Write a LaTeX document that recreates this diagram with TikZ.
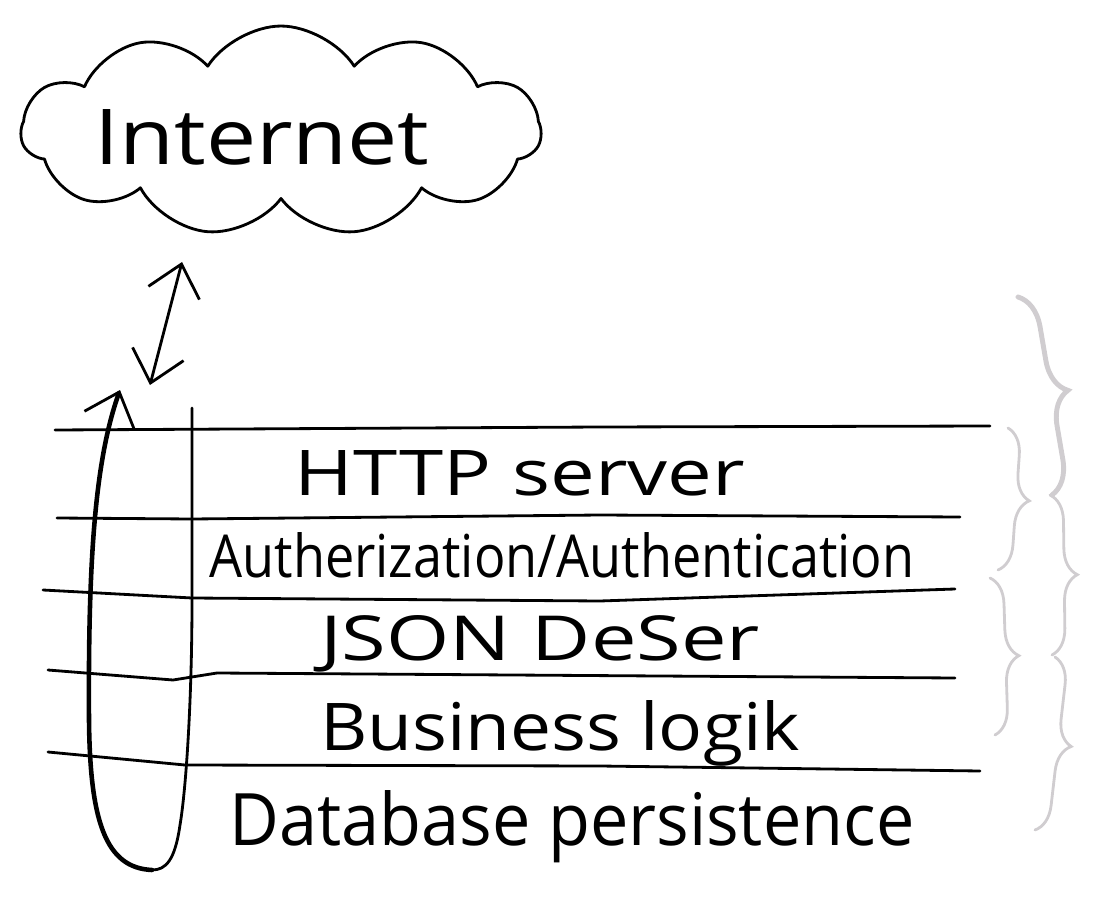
\documentclass[tikz,border=0pt]{standalone}
\usepackage{fontspec}
\setmainfont{Open Sans}
\usepackage{tikz}
\usetikzlibrary{shapes, arrows.meta, positioning, decorations.pathreplacing}
\definecolor{pencil}{RGB}{208,205,208}
\newcommand{\scribble}[3]{\resizebox{#1}{#2}{#3}}
\tikzstyle{pen} = [line width=1.6pt, line cap=round, line join=round]
\tikzstyle{heavypen} = [line width=2.6pt, line cap=round, line join=round]
\tikzstyle{hand} = [inner sep=0pt, anchor=base]
\tikzstyle{bracket} = [draw=pencil, line width=1.6pt, line cap=round, decorate]
\tikzstyle{barb} = [>={Straight Barb[length=17pt, width=30pt, line width=1.6pt]}]

\begin{document}
\begin{tikzpicture}[x=0.02cm, y=-0.02cm, barb]
	\useasboundingbox (0,0) rectangle (1116,902);
	% the cloud
	\node [cloud, draw, pen, cloud puffs=11, cloud puff arc=115, aspect=2.4,
		minimum width=10.4cm, minimum height=4.2cm, inner sep=0pt] (internet) at (281,131) {};
	\node [hand] (internettext) at (262,165) {\scribble{6.7cm}{1.1cm}{Internet}};
	% link to the stack
	\coordinate (netend) at (182,262);
	\coordinate (stackend) at (150,385);
	\draw [pen, <->] (netend) -- (stackend);
	% layer lines
	\draw [pen] (55,430) -- (600,427) -- (990,426);
	\draw [pen] (57,518) -- (192,519) -- (600,515) -- (960,517);
	\draw [pen] (43,590) -- (192,598) -- (600,601) -- (955,589);
	\draw [pen] (48,670) -- (173,680) -- (217,673) -- (955,678);
	\draw [pen] (48,752) -- (185,765) -- (600,766) -- (980,771);
	% request loop
	\coordinate (looptop) at (120,390);
	\coordinate (loopbottom) at (152,870);
	\draw [pen] (192,408) -- (192,600) .. controls (192,700) and (186,790) .. (180,825)
		.. controls (175,860) and (166,870) .. (loopbottom);
	\draw [heavypen, ->] (loopbottom) .. controls (105,868) and (90,820) .. (89,720)
		.. controls (88,560) and (95,460) .. (looptop);
	% layers
	\node [hand] (http) at (520,495) {\scribble{9cm}{0.9cm}{HTTP server}};
	\node [hand] (auth) at (562,577) {\scribble{14.1cm}{0.9cm}{Autherization/Authentication}};
	\node [hand] (json) at (540,660) {\scribble{8.8cm}{0.9cm}{JSON DeSer}};
	\node [hand] (logic) at (560,750) {\scribble{9.6cm}{1cm}{Business logik}};
	\node [hand] (db) at (572,845) {\scribble{13.7cm}{1.1cm}{Database persistence}};
	% braces
	\draw [bracket, line width=2.8pt, decoration={brace, amplitude=19pt}] (1018,297) -- (1052,495);
	\draw [bracket, decoration={brace, amplitude=15pt}] (1008,428) -- (998,570);
	\draw [bracket, decoration={brace, amplitude=15pt}] (990,578) -- (995,735);
	\draw [bracket, decoration={brace, amplitude=15pt}] (1050,495) -- (1052,655);
	\draw [bracket, decoration={brace, amplitude=15pt}] (1055,657) -- (1035,830);
\end{tikzpicture}
\end{document}
